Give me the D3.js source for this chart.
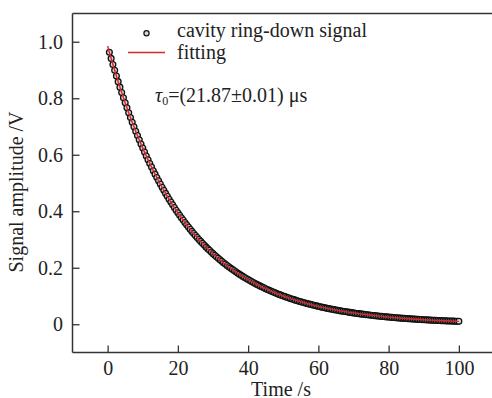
<!DOCTYPE html>
<html>
<head>
<meta charset="utf-8">
<script src="https://cdnjs.cloudflare.com/ajax/libs/d3/7.8.5/d3.min.js"></script>
<style>
  html, body { margin: 0; padding: 0; background: #fff; }
  svg { display: block; }
</style>
</head>
<body>
<svg id="chart" width="492" height="398"></svg>
<script>
// ---- data ----
const signalTime = [
  0.5,1,1.5,2,2.5,3,3.5,4,4.5,5,5.5,6,6.5,7,7.5,8,8.5,9,9.5,
  10,10.5,11,11.5,12,12.5,13,13.5,14,14.5,15,15.5,16,16.5,17,17.5,18,18.5,19,19.5,
  20,20.5,21,21.5,22,22.5,23,23.5,24,24.5,25,25.5,26,26.5,27,27.5,28,28.5,29,29.5,
  30,30.5,31,31.5,32,32.5,33,33.5,34,34.5,35,35.5,36,36.5,37,37.5,38,38.5,39,39.5,
  40,40.5,41,41.5,42,42.5,43,43.5,44,44.5,45,45.5,46,46.5,47,47.5,48,48.5,49,49.5,
  50,50.5,51,51.5,52,52.5,53,53.5,54,54.5,55,55.5,56,56.5,57,57.5,58,58.5,59,59.5,
  60,60.5,61,61.5,62,62.5,63,63.5,64,64.5,65,65.5,66,66.5,67,67.5,68,68.5,69,69.5,
  70,70.5,71,71.5,72,72.5,73,73.5,74,74.5,75,75.5,76,76.5,77,77.5,78,78.5,79,79.5,
  80,80.5,81,81.5,82,82.5,83,83.5,84,84.5,85,85.5,86,86.5,87,87.5,88,88.5,89,89.5,
  90,90.5,91,91.5,92,92.5,93,93.5,94,94.5,95,95.5,96,96.5,97,97.5,98,98.5,99,99.5,100
];
const signalAmplitude = [
  0.9627,0.9410,0.9197,0.8989,0.8786,0.8587,0.8393,0.8204,0.8018,0.7837,0.7660,0.7487,0.7317,0.7152,0.6990,0.6832,0.6678,0.6527,0.6380,
  0.6235,0.6094,0.5957,0.5822,0.5690,0.5562,0.5436,0.5313,0.5193,0.5076,0.4961,0.4849,0.4739,0.4632,0.4527,0.4425,0.4325,0.4227,0.4132,0.4038,
  0.3947,0.3858,0.3771,0.3686,0.3602,0.3521,0.3441,0.3363,0.3287,0.3213,0.3140,0.3069,0.3000,0.2932,0.2866,0.2801,0.2738,0.2676,0.2616,0.2556,
  0.2499,0.2442,0.2387,0.2333,0.2280,0.2229,0.2178,0.2129,0.2081,0.2034,0.1988,0.1943,0.1899,0.1856,0.1814,0.1773,0.1733,0.1694,0.1656,0.1618,
  0.1582,0.1546,0.1511,0.1477,0.1444,0.1411,0.1379,0.1348,0.1317,0.1288,0.1258,0.1230,0.1202,0.1175,0.1149,0.1123,0.1097,0.1072,0.1048,0.1024,
  0.1001,0.0979,0.0957,0.0935,0.0914,0.0893,0.0873,0.0853,0.0834,0.0815,0.0797,0.0779,0.0761,0.0744,0.0727,0.0711,0.0695,0.0679,0.0664,0.0649,
  0.0634,0.0620,0.0606,0.0592,0.0578,0.0565,0.0553,0.0540,0.0528,0.0516,0.0504,0.0493,0.0482,0.0471,0.0460,0.0450,0.0440,0.0430,0.0420,0.0411,
  0.0401,0.0392,0.0383,0.0375,0.0366,0.0358,0.0350,0.0342,0.0334,0.0327,0.0319,0.0312,0.0305,0.0298,0.0291,0.0285,0.0278,0.0272,0.0266,0.0260,
  0.0254,0.0248,0.0243,0.0237,0.0232,0.0227,0.0221,0.0216,0.0212,0.0207,0.0202,0.0198,0.0193,0.0189,0.0184,0.0180,0.0176,0.0172,0.0168,0.0165,
  0.0161,0.0157,0.0154,0.0150,0.0147,0.0143,0.0140,0.0137,0.0134,0.0131,0.0128,0.0125,0.0122,0.0119,0.0117,0.0114,0.0112,0.0109,0.0107,0.0104,0.0102
];
const fitTime = [0,2,4,6,8,10,12,14,16,18,20,22,24,26,28,30,32,34,36,38,40,42,44,46,48,50,
  52,54,56,58,60,62,64,66,68,70,72,74,76,78,80,82,84,86,88,90,92,94,96,98,100];
const fitAmplitude = [0.9850,0.8989,0.8204,0.7487,0.6832,0.6235,0.5690,0.5193,0.4739,0.4325,
  0.3947,0.3602,0.3287,0.3000,0.2738,0.2499,0.2280,0.2081,0.1899,0.1733,
  0.1582,0.1444,0.1317,0.1202,0.1097,0.1001,0.0914,0.0834,0.0761,0.0695,
  0.0634,0.0578,0.0528,0.0482,0.0440,0.0401,0.0366,0.0334,0.0305,0.0278,
  0.0254,0.0232,0.0212,0.0193,0.0176,0.0161,0.0147,0.0134,0.0122,0.0112,0.0102];
const xTicks = [0, 20, 40, 60, 80, 100];
const yTicks = [0, 0.2, 0.4, 0.6, 0.8, 1.0];
const yTickLabels = ["0", "0.2", "0.4", "0.6", "0.8", "1.0"];
const legendLabels = ["cavity ring-down signal", "fitting"];

// ---- drawing ----
(function () {
const svg = d3.select("#chart");
const pLeft = 72.5, pRight = 494, pTop = 13.5, pBottom = 352.5;
const x = d3.scaleLinear().domain([-10, 110]).range([pLeft, pRight]);
const y = d3.scaleLinear().domain([-0.1, 1.1]).range([pBottom, pTop]);
const axisColor = "#333";
const fontSize = 20;
const FONT = "'Liberation Serif', 'Times New Roman', serif";
const textColor = "#222";

// data markers
const pts = signalTime.map((t, i) => [t, signalAmplitude[i]]);
svg.append("g").selectAll("circle").data(pts).join("circle")
  .attr("cx", d => x(d[0])).attr("cy", d => y(d[1]))
  .attr("r", 2.9)
  .attr("fill", "#d4d4d4").attr("stroke", "#111").attr("stroke-width", 1.3);

// fit line
const fitPts = fitTime.map((t, i) => [t, fitAmplitude[i]]);
svg.append("path").datum(fitPts)
  .attr("d", d3.line().x(d => x(d[0])).y(d => y(d[1])).curve(d3.curveMonotoneX))
  .attr("fill", "none").attr("stroke", "#d8262b").attr("stroke-width", 1.4);

// axes
const xAxis = d3.axisBottom(x).tickValues(xTicks).tickSize(-7).tickPadding(8.3).tickFormat(d3.format("d"));
const gx = svg.append("g").attr("transform", `translate(0,${pBottom})`).call(xAxis);
const yAxis = d3.axisLeft(y).tickValues(yTicks).tickSize(-7).tickPadding(9.5)
  .tickFormat((d, i) => yTickLabels[i]);
const gy = svg.append("g").attr("transform", `translate(${pLeft},0)`).call(yAxis);
[gx, gy].forEach(g => {
  g.select(".domain").remove();
  g.selectAll(".tick line").attr("stroke", axisColor).attr("stroke-width", 1.3);
  g.selectAll(".tick text").style("font-size", fontSize + "px")
    .style("font-family", FONT).style("fill", textColor);
});
// frame lines
svg.append("line").attr("x1", pLeft).attr("x2", 492).attr("y1", pBottom).attr("y2", pBottom)
  .attr("stroke", axisColor).attr("stroke-width", 1.5);
svg.append("line").attr("x1", pLeft).attr("x2", 492).attr("y1", pTop).attr("y2", pTop)
  .attr("stroke", axisColor).attr("stroke-width", 1.5);
svg.append("line").attr("x1", pLeft).attr("x2", pLeft).attr("y1", pTop).attr("y2", pBottom)
  .attr("stroke", axisColor).attr("stroke-width", 1.5);

function txt(sel) {
  return sel.style("font-family", FONT).style("font-size", fontSize + "px").style("fill", textColor);
}
// axis titles
txt(svg.append("text")).attr("x", 281).attr("y", 395.5).attr("text-anchor", "middle").text("Time /s");
txt(svg.append("text")).attr("transform", "translate(23,192) rotate(-90)").attr("text-anchor", "middle")
  .text("Signal amplitude /V");

// legend
svg.append("circle").attr("cx", 146.5).attr("cy", 33.3).attr("r", 2.6)
  .attr("fill", "#d4d4d4").attr("stroke", "#111").attr("stroke-width", 1.2);
txt(svg.append("text")).attr("x", 177).attr("y", 37).text(legendLabels[0]);
svg.append("line").attr("x1", 128).attr("x2", 165).attr("y1", 52.5).attr("y2", 52.5)
  .attr("stroke", "#d8262b").attr("stroke-width", 1.4);
txt(svg.append("text")).attr("x", 177).attr("y", 58.5).text(legendLabels[1]);

// annotation
const ann = txt(svg.append("text")).attr("x", 155).attr("y", 102);
ann.append("tspan").style("font-style", "italic").text("τ");
ann.append("tspan").style("font-size", "12px").attr("dy", 3).text("0");
ann.append("tspan").attr("dy", -3).text("=(21.87±0.01) μs");
})();
</script>
</body>
</html>
